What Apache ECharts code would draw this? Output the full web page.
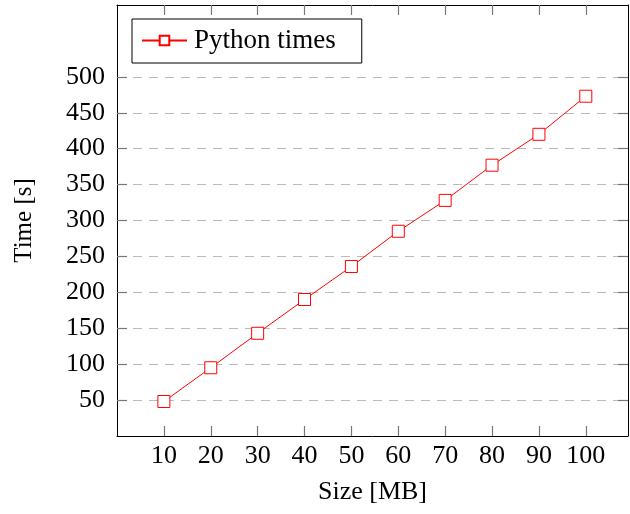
<!DOCTYPE html>
<html>
<head>
<meta charset="utf-8">
<script src="https://cdn.jsdelivr.net/npm/echarts@6/dist/echarts.min.js"></script>
<style>
  html, body { margin: 0; padding: 0; background: #fff; }
  #chart { width: 630px; height: 514px; }
</style>
</head>
<body>
<div id="chart"></div>
<script>
var sizes = [10, 20, 30, 40, 50, 60, 70, 80, 90, 100];
var pythonTimes = [48, 95, 143, 190, 236, 285, 328, 377, 420, 473];
var xTicks = [10, 20, 30, 40, 50, 60, 70, 80, 90, 100];
var yTicks = [50, 100, 150, 200, 250, 300, 350, 400, 450, 500];

var fontFamily = 'Liberation Serif';
var tickColor = '#777';

var points = [];
for (let i = 0; i < sizes.length; i = i + 1) {
  points.push([sizes[i], pythonTimes[i]]);
}

var myChart = echarts.init(document.getElementById('chart'));

// frame axes (top / right) only mirror the ticks
function frameAxis(extra) {
  return Object.assign({
    type: 'value',
    axisLine: { show: true, onZero: false, lineStyle: { color: '#000', width: 1 } },
    axisLabel: { show: false },
    splitLine: { show: false }
  }, extra);
}

var option = {
  animation: false,
  textStyle: { fontFamily: fontFamily, color: '#000' },
  grid: { left: 117, right: 2, top: 5, bottom: 78 },
  legend: {
    data: ['Python times'],
    left: 132,
    top: 19,
    padding: [8, 26, 9, 9],
    borderColor: '#000',
    borderWidth: 1,
    backgroundColor: '#fff',
    itemWidth: 45,
    itemHeight: 12,
    itemGap: 10,
    textStyle: { fontFamily: fontFamily, fontSize: 27, color: '#000', padding: [0, 0, 0, 2] }
  },
  xAxis: [
    {
      type: 'value',
      min: 0,
      max: 109,
      name: 'Size [MB]',
      nameLocation: 'middle',
      nameGap: 43,
      nameTextStyle: { fontFamily: fontFamily, fontSize: 26, color: '#000' },
      axisLine: { show: true, onZero: false, lineStyle: { color: '#000', width: 1 } },
      axisTick: { show: true, inside: true, length: 10, customValues: xTicks, lineStyle: { color: tickColor, width: 1.2 } },
      axisLabel: { customValues: xTicks, fontSize: 26, color: '#000', margin: 7 },
      splitLine: { show: false }
    },
    frameAxis({
      position: 'top',
      min: 0,
      max: 109,
      axisTick: { show: true, inside: true, length: 10, customValues: xTicks, lineStyle: { color: tickColor, width: 1.2 } }
    })
  ],
  yAxis: [
    {
      type: 'value',
      min: 0,
      max: 600,
      name: 'Time [s]',
      nameLocation: 'middle',
      nameGap: 80,
      nameTextStyle: { fontFamily: fontFamily, fontSize: 25, color: '#000' },
      axisLine: { show: true, onZero: false, lineStyle: { color: '#000', width: 1 } },
      axisTick: { show: true, inside: true, length: 10, customValues: yTicks, lineStyle: { color: tickColor, width: 1.2 } },
      axisLabel: { customValues: yTicks, fontSize: 26, color: '#000', margin: 12 },
      splitLine: {
        show: true,
        lineStyle: { color: '#bbb', type: [9, 7], width: 1 }
      }
    },
    frameAxis({
      position: 'right',
      min: 0,
      max: 600,
      axisTick: { show: true, inside: true, length: 10, customValues: yTicks, lineStyle: { color: tickColor, width: 1.2 } }
    })
  ],
  series: [
    {
      name: 'Python times',
      type: 'line',
      data: points,
      symbol: 'rect',
      symbolSize: 12,
      itemStyle: { color: '#fff', borderColor: '#f00', borderWidth: 1 },
      lineStyle: { color: '#f00', width: 1 }
    }
  ]
};

option && myChart.setOption(option);
</script>
</body>
</html>
